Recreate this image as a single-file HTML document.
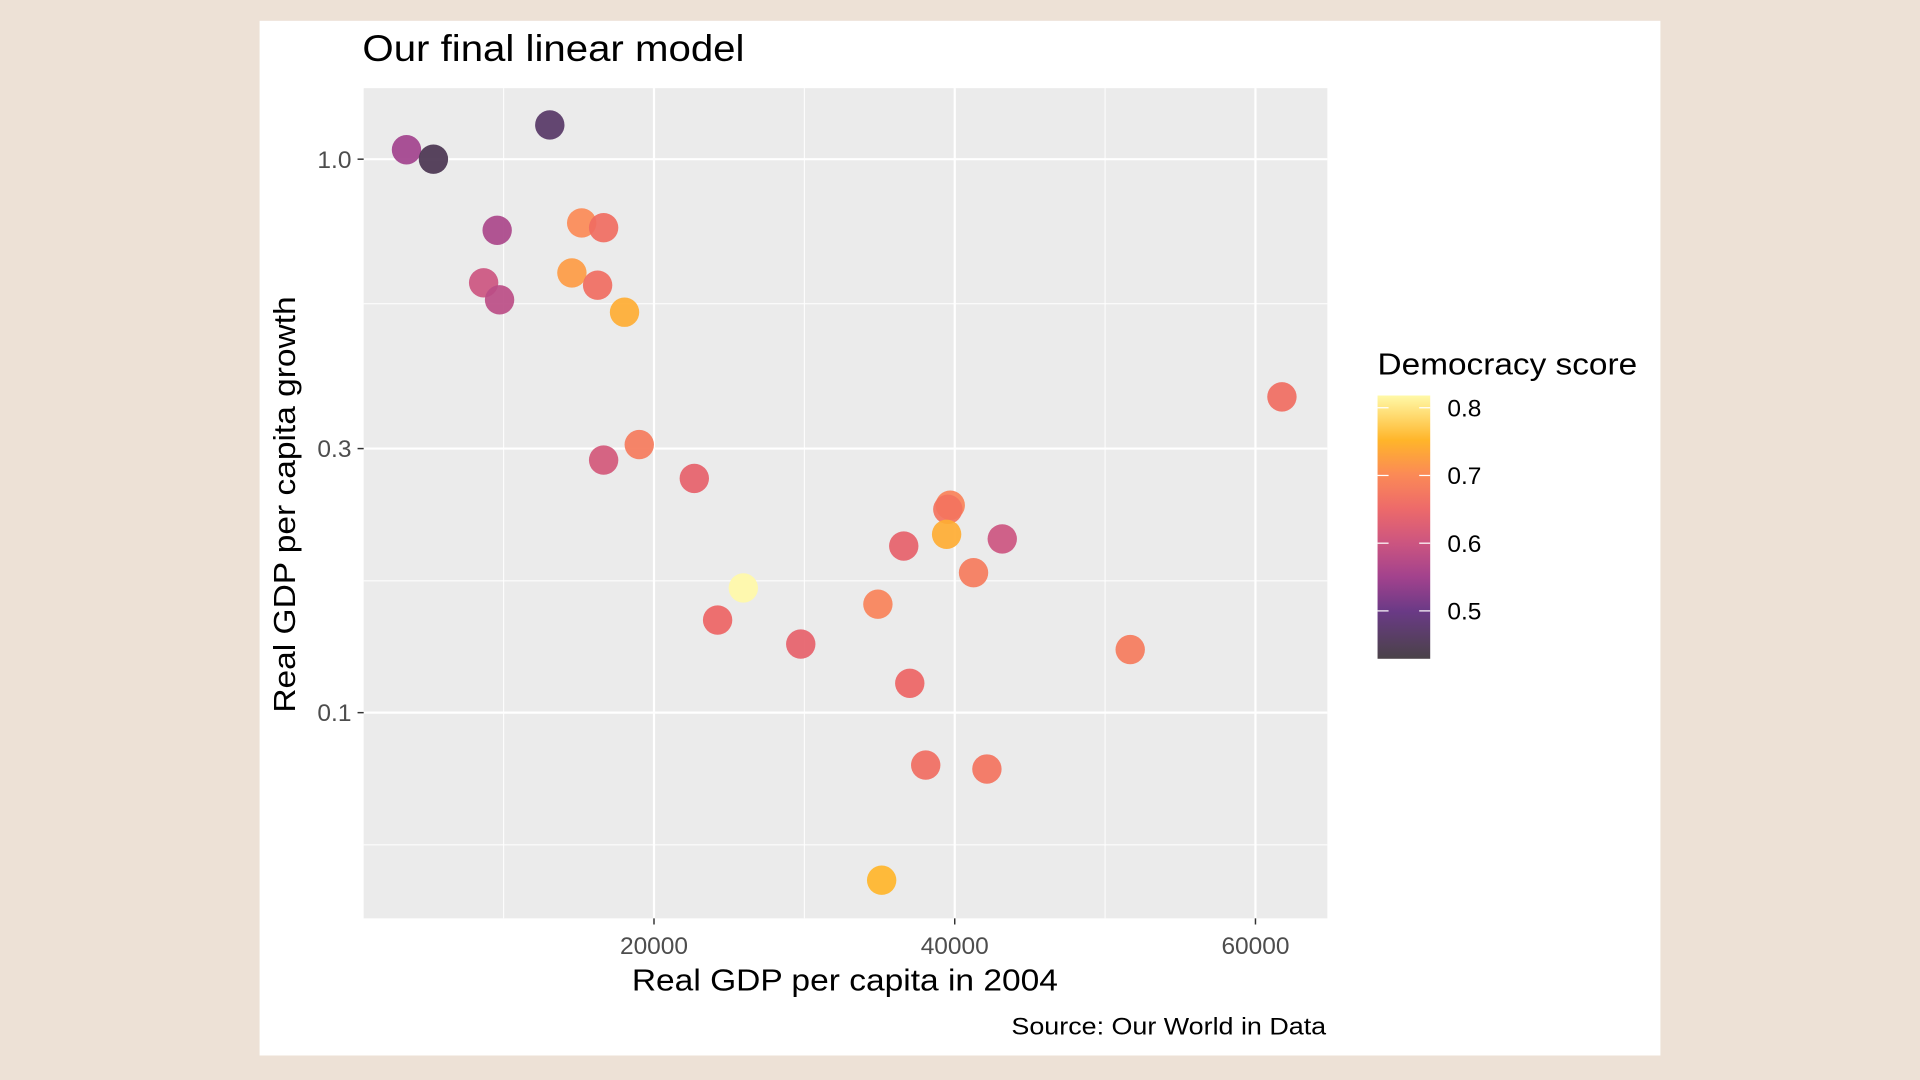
<!DOCTYPE html>
<html><head><meta charset="utf-8"><style>
html,body{margin:0;padding:0;background:#ede1d6;}
svg{display:block;font-family:"Liberation Sans",sans-serif;}
</style></head><body>
<svg id="chart" width="1920" height="1080" viewBox="0 0 1568 882">
<defs>
<linearGradient id="cb" x1="0" y1="1" x2="0" y2="0">
<stop offset="0" stop-color="#4a4248"/>
<stop offset="0.18" stop-color="#6a3a86"/>
<stop offset="0.31" stop-color="#a2428d"/>
<stop offset="0.44" stop-color="#cc5580"/>
<stop offset="0.57" stop-color="#ed6a6a"/>
<stop offset="0.70" stop-color="#fb8a56"/>
<stop offset="0.83" stop-color="#ffb52a"/>
<stop offset="1" stop-color="#fff9a8"/>
</linearGradient>
</defs>
<rect x="0" y="0" width="1568" height="882" fill="#ede1d6"/>
<rect x="212" y="17" width="1144" height="845" fill="#ffffff"/>
<text x="296" y="50" font-size="30" textLength="312" lengthAdjust="spacingAndGlyphs" fill="#000">Our final linear model</text>
<rect x="297" y="72" width="787" height="678" fill="#ebebeb"/>
<g id="grid"></g>
<g id="points"></g>
<g id="axes"></g>
<text x="516" y="809" font-size="25" textLength="348" lengthAdjust="spacingAndGlyphs" fill="#000">Real GDP per capita in 2004</text>
<text transform="translate(241,582) rotate(-90)" font-size="25" textLength="340" lengthAdjust="spacingAndGlyphs" fill="#000">Real GDP per capita growth</text>
<text x="826" y="845" font-size="20" textLength="257" lengthAdjust="spacingAndGlyphs" fill="#000">Source: Our World in Data</text>
<text x="1125" y="306" font-size="25" textLength="212" lengthAdjust="spacingAndGlyphs" fill="#000">Democracy score</text>
<rect x="1125" y="323" width="43" height="215" fill="url(#cb)"/>
<g id="legend"></g>
</svg>
<script>
const gdp = [3540,5330,13070,9570,15190,16650,8670,9730,14540,16250,18040,19020,16650,22680,39700,39540,39460,43160,36610,41250,25940,34890,24230,29760,51670,37010,38070,42140,35140,61760];
const growth = [1.04,1.0,1.153,0.744,0.767,0.752,0.598,0.557,0.623,0.592,0.529,0.305,0.286,0.265,0.237,0.233,0.210,0.206,0.200,0.179,0.168,0.157,0.147,0.133,0.130,0.113,0.0804,0.0791,0.0498,0.372];
const democracy = [0.55,0.45,0.47,0.56,0.70,0.66,0.60,0.58,0.72,0.66,0.74,0.68,0.61,0.64,0.69,0.67,0.74,0.60,0.64,0.68,0.82,0.69,0.65,0.64,0.68,0.65,0.66,0.67,0.75,0.66];
const xTicks = [20000,40000,60000];
const xTickLabels = ["20000","40000","60000"];
const xMinor = [10000,30000,50000];
const yTicks = [1.0,0.3,0.1];
const yTickLabels = ["1.0","0.3","0.1"];
const yMinor = [0.548,0.173,0.0577];
const legendTicks = [0.8,0.7,0.6,0.5];
const legendLabels = ["0.8","0.7","0.6","0.5"];

const NS="http://www.w3.org/2000/svg";
function xs(v){return 288.5+v*0.01228;}
function ys(v){return 130-Math.log10(v)*452;}
function ls(v){return 333+(0.8-v)*553;}
const stops=[[0.429,[60,50,58]],[0.5,[106,58,134]],[0.55,[162,66,141]],[0.6,[204,85,128]],[0.65,[237,100,100]],[0.7,[251,138,86]],[0.75,[255,181,42]],[0.818,[255,249,168]]];
function col(v){
  if(v<=stops[0][0]) return 'rgb('+stops[0][1]+')';
  for(let i=1;i<stops.length;i++){
    if(v<=stops[i][0]){const a=stops[i-1],b=stops[i];const t=(v-a[0])/(b[0]-a[0]);
      return 'rgb('+a[1].map((c,k)=>Math.round(c+(b[1][k]-c)*t)).join(',')+')';}
  }
  return 'rgb('+stops[stops.length-1][1]+')';
}
function mk(tag,attrs,parent){const e=document.createElementNS(NS,tag);for(const k in attrs)e.setAttribute(k,attrs[k]);parent.appendChild(e);return e;}
const grid=document.getElementById('grid'),pts=document.getElementById('points'),axes=document.getElementById('axes'),leg=document.getElementById('legend');
xMinor.forEach(v=>{const l=mk('line',{x1:xs(v),x2:xs(v),y1:72,y2:750,stroke:'#fff','stroke-width':0.8},grid);

});
yMinor.forEach(v=>{const l=mk('line',{x1:297,x2:1084,y1:ys(v),y2:ys(v),stroke:'#fff','stroke-width':0.8},grid);

});
xTicks.forEach((v,i)=>{const l=mk('line',{x1:xs(v),x2:xs(v),y1:72,y2:750,stroke:'#fff','stroke-width':1.8},grid);


const t=mk('line',{x1:xs(v),x2:xs(v),y1:750,y2:755,stroke:'#333','stroke-width':1.2},axes);


const tx=mk('text',{x:xs(v),y:779,'font-size':20,'text-anchor':'middle',fill:'#4d4d4d'},axes);tx.textContent=xTickLabels[i];

});
yTicks.forEach((v,i)=>{const l=mk('line',{x1:297,x2:1084,y1:ys(v),y2:ys(v),stroke:'#fff','stroke-width':1.8},grid);


const t=mk('line',{x1:292,x2:297,y1:ys(v),y2:ys(v),stroke:'#333','stroke-width':1.2},axes);


const tx=mk('text',{x:287,y:ys(v)+7,'font-size':20,'text-anchor':'end',fill:'#4d4d4d'},axes);tx.textContent=yTickLabels[i];

});
gdp.forEach((g,i)=>{const c=mk('circle',{cx:xs(g),cy:ys(growth[i]),r:12,fill:col(democracy[i]),'fill-opacity':0.92},pts);

});
legendTicks.forEach((v,i)=>{
const a=mk('line',{x1:1125,x2:1134,y1:ls(v),y2:ls(v),stroke:'#fff','stroke-width':1},leg);


const b=mk('line',{x1:1159,x2:1168,y1:ls(v),y2:ls(v),stroke:'#fff','stroke-width':1},leg);


const tx=mk('text',{x:1182,y:ls(v)+7,'font-size':20,fill:'#000'},leg);tx.textContent=legendLabels[i];

});
</script>
</body></html>
